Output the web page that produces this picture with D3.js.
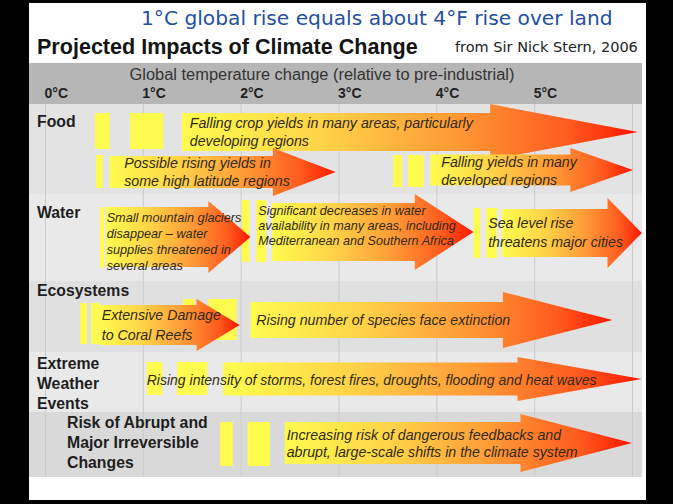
<!DOCTYPE html>
<html>
<head>
<meta charset="utf-8">
<script src="https://cdn.jsdelivr.net/npm/d3@7"></script>
<style>
  html, body { margin: 0; padding: 0; background: #000; }
  svg { display: block; }
</style>
</head>
<body>
<svg id="chart" width="673" height="504"></svg>
<script>
// ---- Data -------------------------------------------------------------
// Global temperature change above pre-industrial (°C)
const tempTicks = [0, 1, 2, 3, 4, 5];
const gridTemps = [0, 1, 2, 3, 4, 5, 6];
const tickLabels = ["0°C", "1°C", "2°C", "3°C", "4°C", "5°C"];

// Impact categories, top to bottom
const categories = ["Food", "Water", "Ecosystems", "Extreme Weather Events",
  "Risk of Abrupt and Major Irreversible Changes"];
const categoryLines = [["Food"], ["Water"], ["Ecosystems"],
  ["Extreme", "Weather", "Events"],
  ["Risk of Abrupt and", "Major Irreversible", "Changes"]];

// One entry per impact arrow
const impactCategory = [0, 0, 0, 1, 1, 1, 2, 2, 3, 4];
const impactText = [
  ["Falling crop yields in many areas, particularly", "developing regions"],
  ["Possible rising yields in", "some high latitude regions"],
  ["Falling yields in many", "developed regions"],
  ["Small mountain glaciers", "disappear  \u2013 water", "supplies threatened in", "several areas"],
  ["Significant decreases in water", "availability in many areas, including", "Mediterranean and Southern Africa"],
  ["Sea level rise", "threatens major cities"],
  ["Extensive Damage", "to Coral Reefs"],
  ["Rising number of species face extinction"],
  ["Rising intensity of storms, forest fires, droughts, flooding and heat waves"],
  ["Increasing risk of dangerous feedbacks and", "abrupt, large-scale shifts in the climate system"]
];
// Warming (°C) where each arrow body starts, where its head begins, and its tip
const impactStart = [1.40, 0.66, 3.94, 0.62, 2.32, 4.67, 0.56, 2.10, 1.82, 2.45];
const impactHead  = [4.55, 2.33, 5.37, 1.67, 3.78, 5.75, 1.55, 4.68, 4.83, 4.86];
const impactEnd   = [6.06, 2.97, 6.01, 2.10, 4.38, 6.10, 1.99, 5.80, 6.10, 6.00];
// Early-onset bands (°C ranges) shown ahead of each arrow
const impactOnset = [
  [[0.51, 0.66], [0.87, 1.21]],
  [[0.52, 0.59]],
  [[3.56, 3.65], [3.71, 3.87]],
  [[0.56, 0.60]],
  [[2.01, 2.09], [2.16, 2.26]],
  [[4.38, 4.45], [4.51, 4.62]],
  [[0.36, 0.43], [0.47, 0.56]],
  [[1.41, 1.53], [1.67, 1.96]],
  [[1.04, 1.20], [1.35, 1.66]],
  [[1.79, 1.92], [2.07, 2.30]]
];

// ---- Layout -----------------------------------------------------------
const W = 673, H = 504;
const panel = { x0: 29, x1: 646, y0: 3, y1: 500 };
const plot = { x0: 29, x1: 642 };
const header = { y0: 63, y1: 104 };
const rowEdges = [104, 194, 281, 352, 412, 477];
const rowFill = ["#e3e3e3", "#e9e9e9", "#e0e0e0", "#e9e9e9", "#d9d9d9"];
const rowLabelX = [37, 37, 37, 37, 67];
const rowLabelY = [121, 212, 290, 363, 422];

// vertical geometry of each arrow: centre, body half-height, head half-height,
// onset-band top/bottom, label start (°C), label line centres, label size
const arrowLayout = [
  { cy: 132, bh: 19, hh: 28, bar: [113, 149], lx: 1.48, ly: [123, 141], fs: 14.2, lh: 18 },
  { cy: 172, bh: 16, hh: 24, bar: [155, 188], lx: 0.81, ly: [163, 181], fs: 14.2 },
  { cy: 170, bh: 15.5, hh: 22, bar: [155, 187], lx: 4.05, ly: [162, 180], fs: 14.2 },
  { cy: 237, bh: 30, hh: 36, bar: [207, 268], lx: 0.63, ly: [217, 233, 249, 265], fs: 12.7 },
  { cy: 232, bh: 29, hh: 38, bar: [200, 262], lx: 2.18, ly: [210, 225, 240], fs: 12.6 },
  { cy: 233, bh: 24, hh: 35, bar: [208, 258], lx: 4.53, ly: [223, 242], fs: 14.2 },
  { cy: 325, bh: 20, hh: 26, bar: [303, 344], lx: 0.58, ly: [315, 335], fs: 14.2 },
  { cy: 320, bh: 18, hh: 28, bar: [299, 340], lx: 2.16, ly: [320], fs: 14.2 },
  { cy: 379, bh: 16.5, hh: 22, bar: [362, 395], lx: 1.04, ly: [380], fs: 14.0 },
  { cy: 443, bh: 21, hh: 29, bar: [422, 466], lx: 2.47, ly: [435, 452], fs: 14.2 }
];

const x = d3.scaleLinear().domain([0, 6]).range([45, 632]);

const svg = d3.select("#chart");
const defs = svg.append("defs");

// fit a text element to a target width by scaling its font size
function fitWidth(sel, width) {
  const w = sel.node().getComputedTextLength();
  const fs = parseFloat(sel.attr("font-size"));
  sel.attr("font-size", fs * width / w);
  return sel;
}

// ---- Frame ------------------------------------------------------------
svg.append("rect").attr("width", W).attr("height", H).attr("fill", "#000");
svg.append("rect")
  .attr("x", panel.x0).attr("y", panel.y0)
  .attr("width", panel.x1 - panel.x0).attr("height", panel.y1 - panel.y0)
  .attr("fill", "#fff");

// ---- Titles -----------------------------------------------------------
const blue = svg.append("text")
  .attr("x", 141).attr("y", 25)
  .attr("font-family", "DejaVu Sans, sans-serif")
  .attr("font-size", 20)
  .attr("fill", "#24509e")
  .text("1°C global rise equals about 4°F rise over land");
fitWidth(blue, 472);

const title = svg.append("text")
  .attr("x", 37).attr("y", 54)
  .attr("font-family", "Liberation Sans, Arial, sans-serif")
  .attr("font-weight", "bold")
  .attr("font-size", 20)
  .attr("fill", "#141414")
  .text("Projected Impacts of Climate Change");
fitWidth(title, 381);

const src = svg.append("text")
  .attr("x", 455).attr("y", 52)
  .attr("font-family", "DejaVu Sans, sans-serif")
  .attr("font-size", 13)
  .attr("fill", "#222")
  .text("from Sir Nick Stern, 2006");
fitWidth(src, 183);

// ---- Header band with the temperature axis ---------------------------
svg.append("rect")
  .attr("x", plot.x0).attr("y", header.y0)
  .attr("width", plot.x1 - plot.x0).attr("height", header.y1 - header.y0)
  .attr("fill", "#b6b6b6");

const sub = svg.append("text")
  .attr("x", 322).attr("y", 80)
  .attr("text-anchor", "middle")
  .attr("font-family", "Liberation Sans, Arial, sans-serif")
  .attr("font-size", 14)
  .attr("fill", "#333")
  .text("Global temperature change (relative to pre-industrial)");
fitWidth(sub, 385);

const axis = d3.axisTop(x)
  .tickValues(tempTicks)
  .tickFormat((d, i) => tickLabels[i])
  .tickSize(0).tickPadding(0);
const axisG = svg.append("g")
  .attr("transform", `translate(0,${98})`)
  .call(axis);
axisG.select(".domain").remove();
axisG.selectAll("text")
  .attr("text-anchor", "start")
  .attr("dx", -1)
  .attr("dy", 0)
  .attr("font-family", "Liberation Sans, Arial, sans-serif")
  .attr("font-weight", "bold")
  .attr("font-size", 14)
  .attr("fill", "#222");

// ---- Category rows ----------------------------------------------------
svg.append("g").selectAll("rect")
  .data(categories)
  .join("rect")
  .attr("x", plot.x0)
  .attr("y", (d, i) => rowEdges[i])
  .attr("width", plot.x1 - plot.x0)
  .attr("height", (d, i) => rowEdges[i + 1] - rowEdges[i])
  .attr("fill", (d, i) => rowFill[i]);

// vertical grid at each whole degree
svg.append("g").selectAll("line")
  .data(gridTemps)
  .join("line")
  .attr("x1", d => x(d) + 0.5).attr("x2", d => x(d) + 0.5)
  .attr("y1", rowEdges[0]).attr("y2", rowEdges[rowEdges.length - 1])
  .attr("stroke", "#cbcbcb").attr("stroke-width", 1);

// row labels
const labelG = svg.append("g")
  .attr("font-family", "Liberation Sans, Arial, sans-serif")
  .attr("font-weight", "bold")
  .attr("font-size", 15.8)
  .attr("fill", "#1e1e1e");
categoryLines.forEach((lines, i) => {
  lines.forEach((ln, j) => {
    labelG.append("text")
      .attr("x", rowLabelX[i])
      .attr("y", rowLabelY[i] + j * 20)
      .attr("dy", "0.36em")
      .text(ln);
  });
});

// ---- Impacts ----------------------------------------------------------
const impacts = impactText.map((t, i) => ({
  id: i,
  category: categories[impactCategory[i]],
  text: t,
  start: impactStart[i],
  head: impactHead[i],
  end: impactEnd[i],
  onset: impactOnset[i],
  lay: arrowLayout[i]
}));

// onset bands, drawn beneath all arrows
svg.append("g").selectAll("g")
  .data(impacts)
  .join("g")
  .selectAll("rect")
  .data(d => d.onset.map(r => ({ r, lay: d.lay })))
  .join("rect")
  .attr("x", d => x(d.r[0]))
  .attr("width", d => x(d.r[1]) - x(d.r[0]))
  .attr("y", d => d.lay.bar[0])
  .attr("height", d => d.lay.bar[1] - d.lay.bar[0])
  .attr("fill", "#fffb4e");

// heat gradient per arrow, yellow at the tail to red at the tip
impacts.forEach(d => {
  const g = defs.append("linearGradient")
    .attr("id", "heat" + d.id)
    .attr("gradientUnits", "userSpaceOnUse")
    .attr("x1", x(d.start)).attr("x2", x(d.end))
    .attr("y1", 0).attr("y2", 0);
  [[0, "#fffb4e"], [0.3, "#ffd448"], [0.6, "#ff9a36"], [0.85, "#ff5a1e"], [1, "#ff1500"]]
    .forEach(([o, c]) => g.append("stop").attr("offset", o).attr("stop-color", c));
});

function arrowPath(d) {
  const L = d.lay;
  const x0 = x(d.start), xh = x(d.head), xe = Math.min(x(d.end), plot.x1);
  const p = d3.path();
  p.moveTo(x0, L.cy - L.bh);
  p.lineTo(xh, L.cy - L.bh);
  p.lineTo(xh, L.cy - L.hh);
  p.lineTo(xe, L.cy);
  p.lineTo(xh, L.cy + L.hh);
  p.lineTo(xh, L.cy + L.bh);
  p.lineTo(x0, L.cy + L.bh);
  p.closePath();
  return p.toString();
}

svg.append("g").selectAll("path")
  .data(impacts)
  .join("path")
  .attr("d", arrowPath)
  .attr("fill", d => `url(#heat${d.id})`);

// arrow captions
const capG = svg.append("g")
  .attr("font-family", "Liberation Sans, Arial, sans-serif")
  .attr("font-style", "italic")
  .attr("fill", "#2f2a18");
impacts.forEach(d => {
  d.text.forEach((ln, j) => {
    capG.append("text")
      .attr("x", x(d.lay.lx))
      .attr("y", d.lay.ly[j])
      .attr("dy", "0.36em")
      .attr("font-size", d.lay.fs)
      .text(ln);
  });
});
</script>
</body>
</html>
